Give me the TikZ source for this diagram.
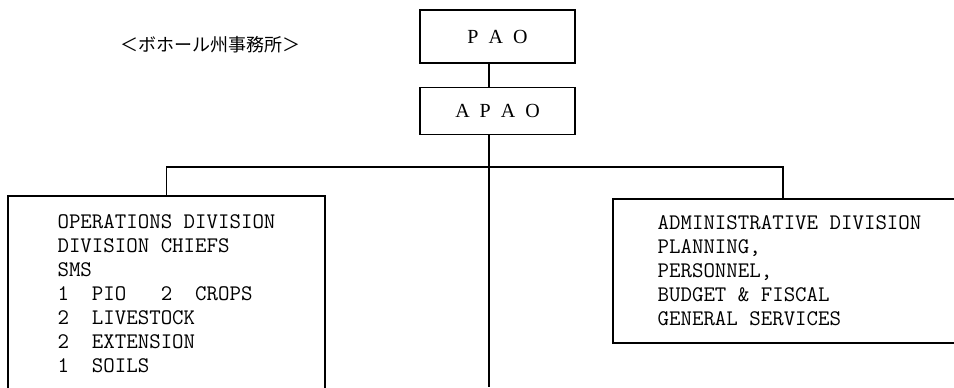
\documentclass[tikz,border=0pt]{standalone}
\usepackage{fontspec}
\setmainfont{Liberation Serif}
\newfontfamily\jpfont{Noto Sans CJK JP}
\usetikzlibrary{positioning}

\begin{document}
\begin{tikzpicture}[x=0.75pt,y=-0.75pt,line width=1.1pt,
    officeBox/.style={draw,minimum width=116.25pt,
                      font=\fontsize{15}{18}\selectfont},
    divBox/.style={draw,align=left,
                   font=\ttfamily\fontsize{16.7}{18}\selectfont},
    jpLabel/.style={font=\jpfont\fontsize{13.5}{16}\selectfont}]

    \clip (0,0) rectangle (954,387);

    % ════════ cabecalho ════════
    \node[jpLabel] (office) at (210,45){＜ボホール州事務所＞};

    \node[officeBox,minimum height=39.75pt] (pao) at (497.5,36.5){P\ \ A\ \ O};
    \node[officeBox,minimum height=35.25pt,below=17.25pt of pao] (apao)
      {A\ \ P\ \ A\ \ O};

    % ════════ divisoes ════════
    \node[divBox,minimum width=237.75pt,minimum height=147pt] (ops) at (166.5,294)
      {OPERATIONS DIVISION\\
       DIVISION CHIEFS\\
       SMS\\
       1\ \ PIO\ \ \ 2\ \ CROPS\\
       2\ \ LIVESTOCK\\
       2\ \ EXTENSION\\
       1\ \ SOILS};
    \node[divBox,minimum width=264.75pt,minimum height=108pt] (adm) at (789.5,271)
      {ADMINISTRATIVE DIVISION\\
       PLANNING,\\
       PERSONNEL,\\
       BUDGET \& FISCAL\\
       GENERAL SERVICES};

    % linhas de ligacao
    \coordinate (spine) at (489,387);
    \coordinate (barRight) at (783,167);
    \draw (pao.south -| spine) -- (apao.north -| spine);
    \draw (apao.south -| spine) -- (spine);
    \draw (ops.north) |- (barRight) -- (barRight |- adm.north);

  \end{tikzpicture}
\end{document}
